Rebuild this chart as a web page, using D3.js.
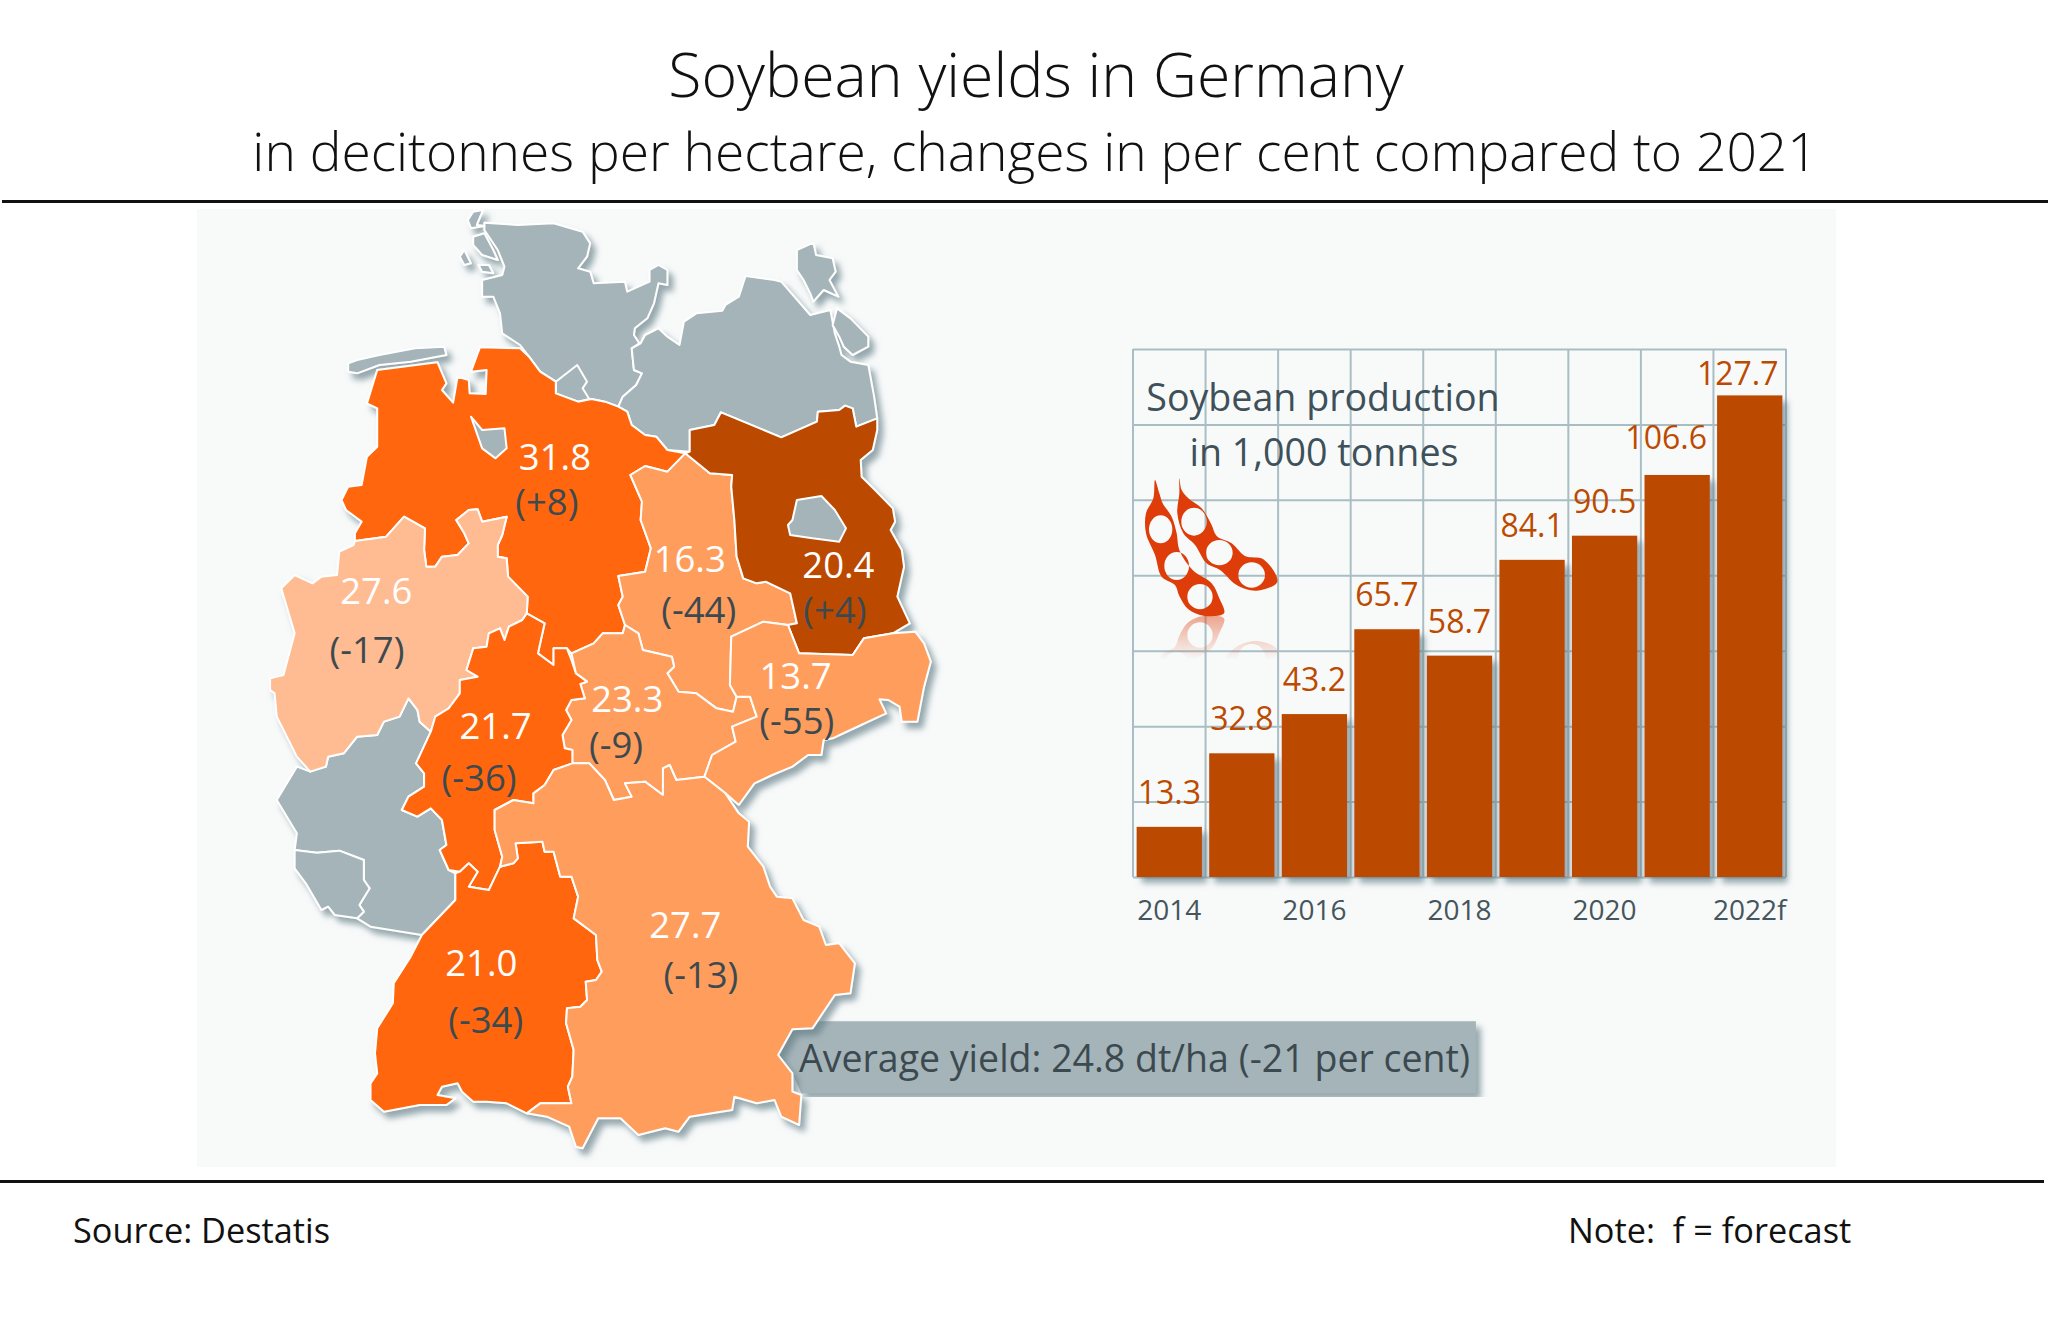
<!DOCTYPE html>
<html lang="en">
<head>
    <meta charset="UTF-8">
    <title>Soybean yields in Germany</title>
    <style>
        html, body { margin: 0; background: #fff; }
        svg { display: block; }
        text { font-family: "Open Sans", sans-serif; }
        .title { font-size: 60.8px; font-weight: 300; fill: #111; text-anchor: middle; }
        .subtitle { font-size: 53.3px; font-weight: 300; fill: #111; text-anchor: middle; }
        .foot { font-size: 34.3px; fill: #111; }
        .region { stroke: #fff; stroke-width: 2px; stroke-linejoin: round; }
        .yield { font-size: 36.5px; fill: #fff; text-anchor: middle; }
        .change { font-size: 36.5px; fill: #3c4a50; text-anchor: middle; }
        .grid line, .vgrid { stroke: #a9bec4; stroke-width: 2px; }
        .barlabel { font-size: 32px; fill: #bc4a00; text-anchor: middle; }
        .xaxis text { font-size: 28px; fill: #46555c; }
        .charttitle { font-size: 37.6px; fill: #3e5059; text-anchor: middle; }
        .callout { font-size: 37.5px; fill: #3c4a50; }
    </style>
</head>
<body>
    <svg width="2048" height="1326"></svg>
    <script src="https://d3js.org/d3.v7.min.js"></script>
    <script>
        // bar chart values
        const years = ["2014", "2015", "2016", "2017", "2018", "2019", "2020", "2021", "2022f"];
        const production = [13.3, 32.8, 43.2, 65.7, 58.7, 84.1, 90.5, 106.6, 127.7];
        const yearTicks = ["2014", "2016", "2018", "2020", "2022f"];

        // map values
        const regionNames = ["Lower Saxony", "North Rhine-Westphalia", "Saxony-Anhalt", "Brandenburg", "Thuringia", "Saxony", "Hesse", "Baden-Wuerttemberg", "Bavaria"];
        const yields = ["31.8", "27.6", "16.3", "20.4", "23.3", "13.7", "21.7", "21.0", "27.7"];
        const changes = ["(+8)", "(-17)", "(-44)", "(+4)", "(-9)", "(-55)", "(-36)", "(-34)", "(-13)"];

        const ORANGE = "#ff6609", PEACH = "#ff9d5c", PALE = "#ffbb92", BROWN = "#bc4a00", GREY = "#a5b4b9", PANEL = "#f8fafa";
        const regionColors = [ORANGE, PALE, PEACH, BROWN, PEACH, PEACH, ORANGE, ORANGE, PEACH];

        // outlines, in map units (see mapX / mapY)
        const outlines = {
            "Lower Saxony": [[285,510],[420,487],[440,550],[430,570],[455,608],[465,530],[490,540],[492,580],[528,582],[530,510],[495,515],[515,442],[605,445],[625,470],[650,515],[685,545],[685,580],[715,595],[735,605],[765,597],[795,605],[825,620],[845,635],[855,675],[885,705],[910,710],[935,750],[975,760],[935,815],[885,798],[852,825],[878,905],[875,960],[898,1045],[885,1115],[825,1128],[835,1190],[825,1215],[840,1275],[835,1300],[790,1300],[770,1330],[720,1360],[710,1345],[680,1345],[680,1395],[645,1360],[660,1270],[620,1240],[622,1190],[600,1160],[578,1130],[575,1075],[555,1070],[555,1035],[565,1005],[575,950],[520,965],[510,928],[490,930],[462,960],[480,1000],[490,1030],[465,1065],[430,1070],[415,1100],[395,1100],[390,1050],[392,985],[345,950],[305,1010],[235,1023],[235,1000],[250,965],[215,930],[205,900],[220,860],[250,855],[262,770],[285,740],[285,625],[262,610]],
            "North Rhine-Westphalia": [[235,1023],[305,1010],[345,950],[392,985],[390,1050],[395,1100],[415,1100],[430,1070],[465,1065],[490,1030],[480,1000],[462,960],[490,930],[510,928],[520,965],[575,950],[565,1005],[555,1035],[555,1070],[575,1075],[578,1130],[600,1160],[622,1190],[620,1240],[610,1260],[580,1280],[570,1320],[560,1285],[535,1300],[530,1340],[500,1345],[485,1410],[510,1430],[470,1440],[470,1480],[445,1525],[415,1550],[405,1595],[380,1565],[375,1530],[355,1495],[335,1550],[300,1565],[285,1605],[240,1610],[210,1660],[175,1670],[170,1700],[135,1715],[105,1670],[60,1550],[55,1480],[45,1470],[45,1435],[75,1425],[100,1300],[70,1165],[100,1125],[140,1150],[160,1130],[195,1125],[200,1055],[232,1035]],
            "Saxony-Anhalt": [[975,760],[1030,820],[1080,825],[1078,860],[1085,960],[1090,1070],[1105,1135],[1135,1150],[1155,1145],[1210,1180],[1225,1270],[1205,1275],[1150,1265],[1078,1310],[1075,1455],[1090,1490],[1082,1535],[1045,1525],[1000,1480],[960,1475],[935,1420],[950,1400],[945,1370],[880,1350],[870,1300],[840,1275],[825,1215],[835,1190],[825,1128],[885,1115],[898,1045],[875,960],[878,905],[852,825],[885,798],[935,815]],
            "Brandenburg": [[985,690],[1040,675],[1055,637],[1190,712],[1270,665],[1272,635],[1320,630],[1333,617],[1350,625],[1358,680],[1405,655],[1405,690],[1395,750],[1368,780],[1370,830],[1400,870],[1440,925],[1445,965],[1435,990],[1460,1050],[1465,1100],[1450,1190],[1478,1270],[1440,1300],[1375,1315],[1350,1365],[1230,1360],[1205,1275],[1225,1270],[1210,1180],[1155,1145],[1135,1150],[1105,1135],[1090,1070],[1085,960],[1078,860],[1080,825],[1030,820],[975,760],[985,755]],
            "Thuringia": [[720,1360],[770,1330],[790,1300],[835,1300],[840,1275],[870,1300],[880,1350],[945,1370],[950,1400],[935,1420],[960,1475],[1000,1480],[1045,1525],[1082,1535],[1090,1490],[1120,1490],[1135,1550],[1080,1580],[1088,1625],[1035,1665],[1018,1730],[955,1740],[940,1695],[925,1705],[925,1785],[895,1755],[885,1745],[840,1750],[855,1790],[815,1800],[795,1740],[760,1690],[722,1690],[722,1650],[705,1645],[700,1605],[720,1560],[708,1530],[720,1500],[750,1495],[740,1452],[755,1445],[730,1420]],
            "Saxony": [[1078,1310],[1150,1265],[1205,1275],[1230,1360],[1350,1365],[1375,1315],[1440,1300],[1490,1295],[1510,1330],[1525,1385],[1510,1460],[1495,1565],[1460,1565],[1455,1520],[1430,1500],[1410,1498],[1425,1540],[1345,1590],[1305,1615],[1285,1620],[1280,1665],[1250,1665],[1215,1700],[1170,1725],[1130,1750],[1095,1815],[1065,1780],[1018,1730],[1035,1665],[1088,1625],[1080,1580],[1135,1550],[1120,1490],[1090,1490],[1075,1455]],
            "Hesse": [[620,1240],[660,1270],[645,1360],[680,1395],[680,1345],[710,1345],[720,1380],[730,1420],[755,1445],[740,1452],[750,1495],[720,1500],[708,1530],[720,1560],[700,1605],[705,1645],[722,1650],[722,1690],[680,1710],[660,1755],[635,1780],[635,1810],[590,1800],[548,1830],[548,1890],[565,1970],[560,2000],[535,2070],[490,2060],[510,2015],[490,1990],[470,2015],[445,2010],[425,1950],[440,1935],[430,1860],[405,1825],[375,1850],[340,1830],[355,1790],[390,1760],[390,1720],[372,1690],[405,1595],[415,1550],[445,1525],[470,1480],[470,1440],[510,1430],[485,1410],[500,1345],[530,1340],[535,1300],[560,1285],[570,1320],[580,1280],[610,1260]],
            "Baden-Wuerttemberg": [[595,1930],[655,1925],[660,1955],[680,1955],[695,2030],[720,2030],[735,2090],[725,2155],[775,2205],[778,2280],[788,2315],[775,2340],[752,2345],[755,2400],[740,2420],[710,2425],[708,2470],[725,2550],[722,2630],[712,2660],[720,2710],[690,2710],[650,2710],[620,2740],[575,2710],[530,2705],[500,2705],[475,2675],[465,2650],[430,2660],[420,2685],[460,2695],[440,2715],[380,2715],[300,2735],[270,2700],[270,2650],[285,2620],[280,2560],[285,2485],[320,2410],[322,2350],[360,2270],[385,2205],[460,2100],[460,2020],[470,2015],[490,1990],[510,2015],[490,2060],[535,2070],[560,2000],[590,1990],[600,1975]],
            "Bavaria": [[590,1800],[635,1810],[635,1780],[660,1755],[680,1710],[722,1690],[760,1690],[795,1740],[815,1800],[855,1790],[840,1750],[885,1745],[895,1755],[925,1785],[925,1705],[940,1695],[955,1740],[1018,1730],[1065,1780],[1095,1840],[1118,1865],[1115,1940],[1150,2000],[1165,2060],[1180,2090],[1215,2095],[1240,2160],[1275,2180],[1290,2235],[1320,2230],[1355,2290],[1345,2380],[1310,2385],[1260,2485],[1215,2488],[1183,2565],[1215,2620],[1215,2675],[1235,2685],[1230,2775],[1190,2750],[1175,2700],[1135,2710],[1085,2690],[1080,2730],[985,2750],[960,2795],[930,2785],[870,2805],[830,2755],[780,2755],[745,2845],[730,2840],[715,2780],[665,2750],[620,2740],[650,2710],[690,2710],[720,2710],[712,2660],[722,2630],[725,2550],[708,2470],[710,2425],[740,2420],[755,2400],[752,2345],[775,2340],[788,2315],[778,2280],[775,2205],[725,2155],[735,2090],[720,2030],[695,2030],[680,1955],[660,1955],[655,1925],[595,1930],[600,1975],[590,1990],[560,2000],[565,1970],[548,1890],[548,1830]]
        };

        // states without a figure, plus islands, all grey
        const greyOutlines = [
            [[525,68],[600,75],[680,70],[745,95],[762,130],[755,170],[735,205],[762,215],[770,250],[840,245],[845,275],[895,245],[895,210],[915,195],[935,210],[935,255],[915,250],[905,310],[890,355],[862,385],[860,405],[872,430],[855,445],[860,510],[878,520],[865,555],[835,590],[825,620],[795,605],[765,597],[735,605],[715,595],[685,580],[685,545],[650,515],[625,470],[605,435],[565,400],[560,340],[545,290],[520,290],[520,240],[565,225],[570,200],[555,150],[525,90]],
            [[733,495],[755,545],[745,565],[760,597],[735,605],[715,595],[685,580],[685,545]],
            [[855,445],[875,430],[885,405],[915,385],[935,410],[962,435],[972,365],[1000,340],[1058,332],[1065,315],[1095,290],[1110,228],[1175,240],[1190,245],[1255,345],[1300,330],[1310,400],[1320,440],[1325,465],[1345,485],[1385,495],[1398,590],[1405,655],[1358,680],[1350,625],[1333,617],[1320,630],[1272,635],[1270,665],[1190,712],[1055,637],[1040,675],[985,690],[985,755],[935,750],[910,710],[885,705],[855,675],[845,635],[825,620],[835,590],[865,555],[878,520],[860,510]],
            [[1225,150],[1262,128],[1268,165],[1305,175],[1312,215],[1298,240],[1318,290],[1285,270],[1262,305],[1255,280],[1240,240],[1225,210]],
            [[1315,325],[1345,355],[1385,410],[1385,440],[1350,465],[1330,440],[1320,410],[1305,375]],
            [[135,1715],[170,1700],[175,1670],[210,1660],[240,1610],[285,1605],[300,1565],[335,1550],[355,1495],[375,1530],[380,1565],[405,1595],[372,1690],[390,1720],[390,1760],[355,1790],[340,1830],[375,1850],[405,1825],[430,1860],[440,1935],[425,1950],[445,2010],[460,2020],[460,2100],[385,2205],[270,2180],[240,2155],[255,2135],[245,2115],[268,2065],[255,2040],[255,1980],[200,1952],[150,1958],[100,1950],[105,1900],[60,1800],[105,1700]],
            [[100,1950],[150,1958],[200,1952],[255,1980],[255,2040],[268,2065],[245,2115],[255,2135],[240,2155],[190,2145],[175,2120],[160,2130],[125,2050],[100,2005]],
            [[220,490],[240,480],[290,465],[370,445],[435,440],[440,465],[360,485],[290,495],[240,520],[220,515]],
            [[500,35],[522,30],[508,75],[525,78],[495,85],[488,60]],
            [[500,110],[525,100],[545,150],[555,180],[520,165],[500,135]],
            [[480,150],[495,190],[480,195],[470,170]],
            [[512,195],[535,195],[545,220],[520,215]]
        ];

        // Bremen and Berlin lie inside other states, so they go on top
        const greyEnclaves = [
            [[495,650],[520,690],[570,685],[575,745],[550,775],[520,745]],
            [[1225,900],[1280,888],[1310,930],[1335,985],[1320,1025],[1260,1015],[1210,1005],[1205,975],[1215,960]]
        ];

        // label anchors in map units, same order as regionNames
        const yieldAnchors = [[683,810],[283,1213],[985,1115],[1318,1135],[845,1535],[1222,1468],[550,1617],[518,2328],[975,2215]];
        const changeAnchors = [[665,945],[262,1388],[1005,1270],[1310,1270],[820,1675],[1225,1602],[513,1772],[528,2500],[1010,2365]];

        const calloutOutline = [[1260,2464],[2746,2464],[2746,2680],[1235,2680],[1215,2620],[1183,2565],[1215,2488],[1250,2488]];

        // pods, in their own units
        const podOutlines = [
            [[105,30],[118,70],[128,100],[155,140],[170,190],[178,240],[218,300],[275,340],[298,385],[312,430],[250,437],[205,418],[178,378],[165,345],[125,320],[105,255],[78,190],[78,130],[100,85]],
            [[178,25],[185,60],[205,85],[245,115],[275,165],[290,198],[335,220],[375,258],[430,268],[472,335],[410,362],[350,345],[300,300],[260,280],[225,225],[190,190],[172,130],[178,70]]
        ];
        const podSeeds = [
            [[122,178,35,42],[170,288,37,42],[240,380,38,38]],
            [[222,155,38,42],[298,248,40,38],[395,315,40,38]]
        ];

        const svg = d3.select("svg");

        // map units to page pixels
        const mapX = d3.scaleLinear().domain([0, 2240]).range([250, 1250]);
        const mapY = d3.scaleLinear().domain([0, 3000]).range([200, 1200]);
        const mapLine = d3.line().x(d => mapX(d[0])).y(d => mapY(d[1])).curve(d3.curveLinearClosed);

        const defs = svg.append("defs");
        defs.append("filter").attr("id", "shadow")
            .attr("x", "-5%").attr("y", "-5%").attr("width", "110%").attr("height", "110%")
            .append("feDropShadow")
            .attr("dx", 5).attr("dy", 6).attr("stdDeviation", 3)
            .attr("flood-color", "#5f7a84").attr("flood-opacity", 0.65);

        const fadeGrad = defs.append("linearGradient").attr("id", "podfade")
            .attr("gradientUnits", "userSpaceOnUse")
            .attr("x1", 0).attr("x2", 0).attr("y1", 438).attr("y2", 570);
        fadeGrad.append("stop").attr("offset", 0).attr("stop-color", "#fff").attr("stop-opacity", 0.45);
        fadeGrad.append("stop").attr("offset", 1).attr("stop-color", "#fff").attr("stop-opacity", 0);
        defs.append("mask").attr("id", "podmask").attr("maskUnits", "userSpaceOnUse")
            .attr("x", 0).attr("y", 430).attr("width", 600).attr("height", 150)
            .append("rect")
            .attr("x", 0).attr("y", 430).attr("width", 600).attr("height", 150)
            .attr("fill", "url(#podfade)");

        // titles and rules
        svg.append("text").attr("class", "title").attr("x", 1036).attr("y", 97).text("Soybean yields in Germany");
        svg.append("text").attr("class", "subtitle").attr("x", 1035).attr("y", 171).text("in decitonnes per hectare, changes in per cent compared to 2021");
        svg.append("rect").attr("x", 2).attr("y", 200).attr("width", 2046).attr("height", 3).attr("fill", "#111");
        svg.append("rect").attr("x", 0).attr("y", 1180).attr("width", 2044).attr("height", 3).attr("fill", "#111");
        svg.append("text").attr("class", "foot").attr("x", 73).attr("y", 1243).text("Source: Destatis");
        svg.append("text").attr("class", "foot").attr("x", 1568).attr("y", 1243).attr("xml:space", "preserve").text("Note:  f = forecast");

        svg.append("rect").attr("x", 197).attr("y", 209).attr("width", 1639).attr("height", 958).attr("fill", PANEL);

        // callout goes under the map, Bavaria's edge cuts its arrow
        svg.append("path")
            .datum(calloutOutline)
            .attr("fill", GREY)
            .attr("filter", "url(#shadow)")
            .attr("d", mapLine);

        // map
        const map = svg.append("g").attr("filter", "url(#shadow)");
        map.selectAll("path.grey")
            .data(greyOutlines)
            .enter().append("path")
            .attr("class", "region grey")
            .attr("fill", GREY)
            .attr("d", mapLine);
        map.selectAll("path.state")
            .data(regionNames)
            .enter().append("path")
            .attr("class", "region state")
            .attr("fill", (d, i) => regionColors[i])
            .attr("d", d => mapLine(outlines[d]));
        map.selectAll("path.enclave")
            .data(greyEnclaves)
            .enter().append("path")
            .attr("class", "region enclave")
            .attr("fill", GREY)
            .attr("d", mapLine);

        svg.selectAll("text.yield")
            .data(yields)
            .enter().append("text")
            .attr("class", "yield")
            .attr("x", (d, i) => mapX(yieldAnchors[i][0]))
            .attr("y", (d, i) => mapY(yieldAnchors[i][1]))
            .text(d => d);
        svg.selectAll("text.change")
            .data(changes)
            .enter().append("text")
            .attr("class", "change")
            .attr("x", (d, i) => mapX(changeAnchors[i][0]))
            .attr("y", (d, i) => mapY(changeAnchors[i][1]))
            .text(d => d);

        svg.append("text").attr("class", "callout").attr("x", 799).attr("y", 1072)
            .text("Average yield: 24.8 dt/ha (-21 per cent)");

        // bar chart
        const x = d3.scaleBand().domain(years).range([1133, 1786]).paddingInner(0.1).paddingOuter(0.05);
        const y = d3.scaleLinear().domain([0, 140]).range([877, 349]);

        svg.append("g").attr("class", "grid")
            .attr("transform", "translate(1133,0)")
            .call(d3.axisLeft(y).tickValues(d3.range(0, 141, 20)).tickSize(-653).tickFormat(""))
            .call(g => g.select(".domain").remove());
        svg.selectAll("line.vgrid")
            .data(d3.range(years.length + 1))
            .enter().append("line")
            .attr("class", "vgrid")
            .attr("x1", d => x.range()[0] + d * x.step())
            .attr("x2", d => x.range()[0] + d * x.step())
            .attr("y1", y(140))
            .attr("y2", y(0));

        const rows = years.map((year, i) => ({ year: year, value: production[i] }));

        svg.append("g").attr("filter", "url(#shadow)")
            .selectAll("rect")
            .data(rows)
            .enter().append("rect")
            .attr("x", d => x(d.year))
            .attr("y", d => y(d.value))
            .attr("width", x.bandwidth())
            .attr("height", d => y(0) - y(d.value))
            .attr("fill", BROWN);

        // the last two labels sit off-centre in the original
        const labelShift = d => d.year === "2022f" ? -12 : d.year === "2021" ? -11 : 0;
        const labelGap = d => d.year === "2022f" ? 10 : d.year === "2021" ? 26 : 23;
        svg.selectAll("text.barlabel")
            .data(rows)
            .enter().append("text")
            .attr("class", "barlabel")
            .attr("x", d => x(d.year) + x.bandwidth() / 2 + labelShift(d))
            .attr("y", d => y(d.value) - labelGap(d))
            .text(d => d.value.toFixed(1));

        svg.append("g").attr("class", "xaxis")
            .attr("transform", "translate(0,877)")
            .call(d3.axisBottom(x).tickValues(yearTicks).tickSize(0).tickPadding(23))
            .call(g => g.select(".domain").remove())
            .call(g => g.selectAll("text").attr("font-family", null).attr("font-size", null));

        svg.append("text").attr("class", "charttitle").attr("x", 1323).attr("y", 411).text("Soybean production");
        svg.append("text").attr("class", "charttitle").attr("x", 1324).attr("y", 466).text("in 1,000 tonnes");

        // pods
        const podLine = d3.line().curve(d3.curveCatmullRomClosed.alpha(0.5));
        const seedPath = s => `M${s[0] - s[2]},${s[1]}a${s[2]},${s[3]} 0 1,0 ${2 * s[2]},0a${s[2]},${s[3]} 0 1,0 ${-2 * s[2]},0Z`;
        const podPath = (d, i) => podLine(d) + podSeeds[i].map(seedPath).join("");

        const pods = svg.append("g").attr("transform", "translate(1120,470) scale(0.3333)");
        pods.selectAll("path.pod")
            .data(podOutlines)
            .enter().append("path")
            .attr("class", "pod")
            .attr("fill", "#de3c08")
            .attr("fill-rule", "evenodd")
            .attr("d", podPath);
        pods.append("g").attr("mask", "url(#podmask)")
            .append("g").attr("transform", "translate(0,875) scale(1,-1)")
            .selectAll("path")
            .data(podOutlines)
            .enter().append("path")
            .attr("fill", "#de3c08")
            .attr("fill-rule", "evenodd")
            .attr("d", podPath);
    </script>
</body>
</html>
